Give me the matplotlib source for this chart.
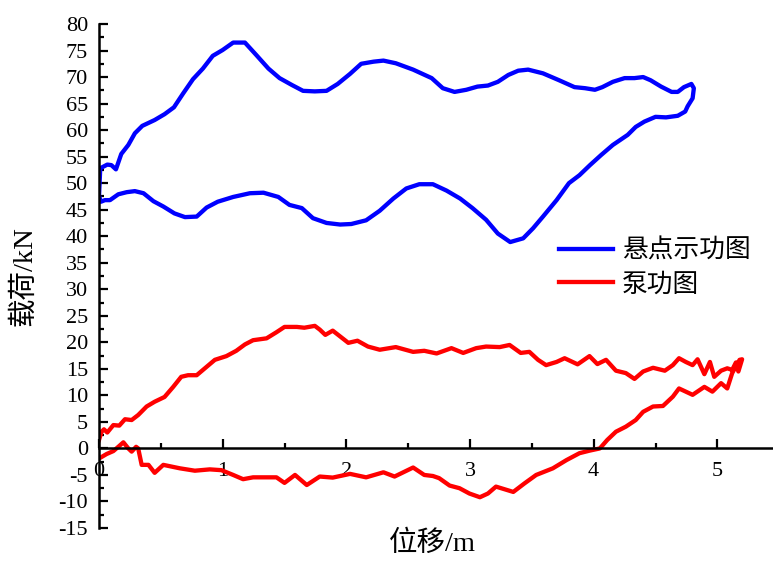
import matplotlib
matplotlib.use("Agg")
import matplotlib.pyplot as plt
from matplotlib.ticker import MultipleLocator

plt.rcParams['font.family'] = ['Liberation Serif', 'Noto Sans CJK SC']
plt.rcParams['axes.unicode_minus'] = False

# 悬点示功图 (polished rod dynamometer card), closed loop
rod_x = [0.0, 0.01, 0.067, 0.10, 0.137, 0.18, 0.237, 0.29, 0.35, 0.45, 0.53, 0.606,
         0.68, 0.76, 0.84, 0.92, 1.00, 1.085, 1.18, 1.27, 1.37, 1.46, 1.56, 1.65,
         1.745, 1.84, 1.93, 2.03, 2.12, 2.22, 2.30, 2.40, 2.54, 2.69, 2.78, 2.875,
         2.97, 3.06, 3.145, 3.225, 3.31, 3.39, 3.47, 3.59, 3.72, 3.845, 3.93, 4.01,
         4.07, 4.155, 4.25, 4.33, 4.40, 4.46, 4.545, 4.63, 4.68, 4.73, 4.79, 4.81,
         4.80, 4.76, 4.74, 4.68, 4.585, 4.50, 4.41, 4.34, 4.275, 4.155, 4.06, 3.97,
         3.885, 3.80, 3.70, 3.59, 3.51, 3.43, 3.325, 3.225, 3.13, 3.02, 2.92, 2.81,
         2.70, 2.59, 2.485, 2.38, 2.27, 2.16, 2.04, 1.95, 1.84, 1.73, 1.64, 1.54,
         1.45, 1.33, 1.22, 1.085, 0.96, 0.87, 0.79, 0.695, 0.61, 0.52, 0.44, 0.36,
         0.29, 0.224, 0.156, 0.089, 0.048, 0.016, 0.0]
rod_y = [47.5, 52.8, 53.5, 53.4, 52.6, 55.5, 57.2, 59.4, 60.8, 61.9, 63.0, 64.3,
         66.9, 69.6, 71.6, 74.0, 75.1, 76.5, 76.5, 74.2, 71.6, 69.8, 68.5, 67.4,
         67.3, 67.4, 68.7, 70.6, 72.5, 72.9, 73.1, 72.6, 71.4, 69.8, 67.9, 67.2,
         67.6, 68.2, 68.4, 69.1, 70.4, 71.2, 71.4, 70.7, 69.4, 68.1, 67.9, 67.6,
         68.1, 69.1, 69.8, 69.8, 70.0, 69.4, 68.2, 67.2, 67.2, 68.1, 68.7, 67.9,
         66.0, 64.5, 63.5, 62.7, 62.4, 62.5, 61.6, 60.6, 59.1, 57.2, 55.3, 53.4,
         51.5, 50.0, 46.8, 43.7, 41.5, 39.6, 38.9, 40.5, 43.1, 45.3, 47.1, 48.6,
         49.8, 49.8, 49.0, 47.1, 44.8, 43.0, 42.3, 42.2, 42.5, 43.4, 45.3, 45.9,
         47.4, 48.2, 48.1, 47.4, 46.5, 45.4, 43.7, 43.6, 44.3, 45.6, 46.6, 48.1,
         48.5, 48.3, 47.9, 46.8, 46.8, 46.5, 47.5]

# 泵功图 (pump dynamometer card), closed loop
pump_x = [0.0, 0.02, 0.04, 0.067, 0.116, 0.164, 0.21, 0.264, 0.317, 0.385, 0.45, 0.53,
          0.60, 0.665, 0.72, 0.79, 0.856, 0.937, 1.03, 1.11, 1.18, 1.246, 1.355, 1.435,
          1.50, 1.60, 1.66, 1.745, 1.785, 1.83, 1.89, 1.95, 2.016, 2.09, 2.175, 2.27,
          2.40, 2.54, 2.63, 2.73, 2.85, 2.945, 3.05, 3.13, 3.24, 3.32, 3.41, 3.48,
          3.55, 3.615, 3.70, 3.765, 3.87, 3.966, 4.03, 4.10, 4.18, 4.26, 4.33, 4.40,
          4.48, 4.575, 4.64, 4.69, 4.745, 4.80, 4.84, 4.895, 4.94, 4.975, 5.03, 5.08,
          5.12, 5.15, 5.17, 5.20,
          5.18, 5.12, 5.08, 5.03, 4.96, 4.895, 4.80, 4.69, 4.64, 4.56, 4.48, 4.40,
          4.34, 4.26, 4.18, 4.11, 4.05, 3.97, 3.885, 3.78, 3.67, 3.535, 3.44, 3.35,
          3.28, 3.21, 3.145, 3.08, 2.995, 2.915, 2.835, 2.75, 2.70, 2.63, 2.54, 2.47,
          2.39, 2.30, 2.16, 2.03, 1.89, 1.785, 1.68, 1.585, 1.50, 1.435, 1.355, 1.246,
          1.165, 1.085, 0.99, 0.896, 0.775, 0.654, 0.52, 0.45, 0.40, 0.345, 0.317, 0.30,
          0.264, 0.237, 0.197, 0.156, 0.116, 0.062, 0.0]
pump_y = [1.6, 3.1, 3.6, 3.0, 4.4, 4.3, 5.5, 5.35, 6.3, 7.9, 8.8, 9.7,
          11.6, 13.5, 13.8, 13.8, 15.1, 16.7, 17.4, 18.4, 19.6, 20.4, 20.75, 21.9,
          22.9, 22.9, 22.75, 23.1, 22.4, 21.4, 22.2, 21.1, 19.9, 20.3, 19.2, 18.6,
          19.1, 18.2, 18.4, 17.9, 18.9, 18.0, 18.9, 19.2, 19.1, 19.5, 18.0, 18.2,
          16.7, 15.7, 16.3, 17.0, 15.85, 17.4, 15.9, 16.7, 14.65, 14.2, 13.1, 14.5,
          15.2, 14.65, 15.7, 17.0, 16.3, 15.7, 16.8, 14.0, 16.3, 13.5, 14.65, 15.1,
          14.8, 16.2, 14.5, 16.8,
          16.7, 14.2, 11.3, 12.3, 10.7, 11.6, 10.1, 11.3, 9.75, 8.0, 7.9, 6.9,
          5.35, 4.1, 3.15, 1.6, 0.0, -0.4, -0.9, -2.2, -3.75, -5.0, -6.6, -8.2,
          -7.7, -7.2, -8.5, -9.2, -8.5, -7.5, -7.0, -5.6, -5.2, -5.0, -3.6, -4.4,
          -5.3, -4.5, -5.45, -4.8, -5.5, -5.3, -6.9, -5.0, -6.5, -5.45, -5.45, -5.45,
          -5.8, -5.0, -4.1, -3.95, -4.2, -3.75, -3.1, -4.6, -3.1, -3.1, 0.0, 0.3,
          -0.6, 0.0, 1.15, 0.3, -0.5, -1.05, -1.9]

x_ticks = [0, 1, 2, 3, 4, 5]
y_ticks = list(range(-15, 85, 5))

fig = plt.figure(figsize=(7.73, 5.64), dpi=100)
ax = fig.add_axes([99 / 773, 36 / 564, 674 / 773, 504 / 564])

ax.plot(rod_x, rod_y, color='#0000ff', lw=3.1, label='悬点示功图')
ax.plot(pump_x, pump_y, color='#ff0000', lw=3.1, label='泵功图')

ax.set_xlim(0, 5.45)
ax.set_ylim(-15, 80)

# axes cross at the origin, only left and bottom lines shown
ax.spines['left'].set_position(('data', 0))
ax.spines['bottom'].set_position(('data', 0))
ax.spines['top'].set_visible(False)
ax.spines['right'].set_visible(False)
for s in ('left', 'bottom'):
    ax.spines[s].set_linewidth(1.8)

ax.set_xticks(x_ticks)
ax.set_yticks(y_ticks)
ax.xaxis.set_minor_locator(MultipleLocator(0.5))
ax.yaxis.set_minor_locator(MultipleLocator(2.5))
ax.tick_params(which='major', direction='in', length=6.5, width=1.6, labelsize=16)
ax.tick_params(which='minor', direction='in', length=3.5, width=1.6)
ax.tick_params(axis='x', which='major', pad=10)
ax.tick_params(axis='y', which='major', pad=8)

ax.set_xlabel('位移/m', fontsize=20.5)
ax.xaxis.set_label_coords(0.494, -0.005)
ax.set_ylabel('载荷/kN', fontsize=20.5)
ax.yaxis.set_label_coords(-0.092, 0.5)

fig.legend(loc='center left', bbox_to_anchor=(559 / 773, (564 - 267.5) / 564),
           frameon=False, fontsize=18.5, handlelength=2.1, handletextpad=0.35,
           borderpad=0, borderaxespad=0, labelspacing=0.4)

fig.savefig('out.png', dpi=100)
